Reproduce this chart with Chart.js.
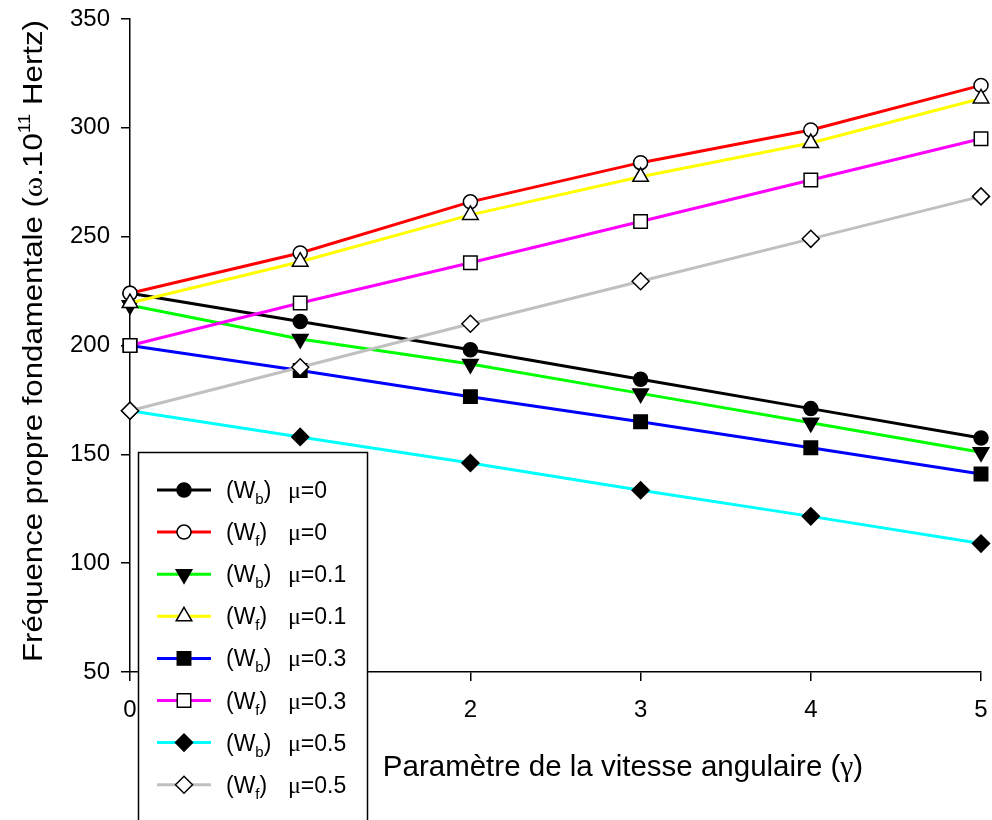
<!DOCTYPE html>
<html>
<head>
<meta charset="utf-8">
<script src="https://cdn.jsdelivr.net/npm/chart.js@4.4.1/dist/chart.umd.min.js"></script>
<style>
  html, body { margin: 0; padding: 0; background: #fff; }
  #wrap { width: 992px; height: 820px; }
</style>
</head>
<body>
<div id="wrap"><canvas id="freqChart" width="992" height="820"></canvas></div>
<script>
// angular velocity parameter (gamma)
const gammaValues = [0, 1, 2, 3, 4, 5];

// fundamental frequency, backward (Wb) and forward (Wf) whirl
const wbMu0  = [224, 211, 198, 184.5, 171, 157.5];
const wfMu0  = [224, 242.5, 266, 284, 299, 319.5];
const wbMu01 = [218.5, 203, 191.5, 178, 164.5, 151];
const wfMu01 = [219.5, 238.5, 260, 277.5, 293, 313.5];
const wbMu03 = [200, 188.5, 176.5, 165, 153, 141];
const wfMu03 = [200, 219.5, 238, 257, 276, 295];
const wbMu05 = [170, 158, 146, 133.5, 121.5, 109];
const wfMu05 = [170, 190, 210, 229.5, 249, 268.5];

// legend text parts
const modeNames = ['b', 'f', 'b', 'f', 'b', 'f', 'b', 'f'];
const muLabels  = ['0', '0', '0.1', '0.1', '0.3', '0.3', '0.5', '0.5'];

const FONT = '"Liberation Sans", Arial, sans-serif';
const GREEK = '"Liberation Serif", "Times New Roman", serif';

function series(values, color, style, filled, radius, rotation) {
  return {
    data: values.map((v, i) => ({ x: gammaValues[i], y: v })),
    borderColor: color,
    borderWidth: 3,
    pointStyle: style,
    pointRadius: radius,
    pointRotation: rotation || 0,
    pointBackgroundColor: filled ? '#000' : '#fff',
    pointBorderColor: '#000',
    pointBorderWidth: 1.5,
    tension: 0,
    clip: false
  };
}

const datasets = [
  series(wbMu0,  '#000000', 'circle',   true,  7),
  series(wfMu0,  '#ff0000', 'circle',   false, 7),
  series(wbMu01, '#00ff00', 'triangle', true,  9, 180),
  series(wfMu01, '#ffff00', 'triangle', false, 9),
  series(wbMu03, '#0000ff', 'rect',     true,  9.5),
  series(wfMu03, '#ff00ff', 'rect',     false, 9.5),
  series(wbMu05, '#00ffff', 'rectRot',  true,  8.5),
  series(wfMu05, '#c0c0c0', 'rectRot',  false, 8.5)
];
// later series are drawn on top
datasets.forEach((d, i) => { d.order = datasets.length - i; });

// draws a run of text pieces (font / vertical shift) starting at x
function drawPieces(ctx, pieces, x, y) {
  pieces.forEach(p => {
    ctx.font = p.font;
    ctx.fillText(p.text, x, y + (p.dy || 0));
    x += ctx.measureText(p.text).width;
  });
}
function piecesWidth(ctx, pieces) {
  let w = 0;
  pieces.forEach(p => { ctx.font = p.font; w += ctx.measureText(p.text).width; });
  return w;
}

// axis titles with greek letters and superscript
const axisTitles = {
  id: 'axisTitles',
  afterDraw(chart) {
    const ctx = chart.ctx;
    ctx.save();
    ctx.fillStyle = '#000';
    ctx.textBaseline = 'alphabetic';
    ctx.textAlign = 'left';

    const xt = [
      { text: 'Paramètre de la vitesse angulaire (', font: '29.5px ' + FONT },
      { text: 'γ', font: '29.5px ' + GREEK },
      { text: ')', font: '29.5px ' + FONT }
    ];
    const xw = piecesWidth(ctx, xt);
    drawPieces(ctx, xt, 623 - xw / 2, 776);

    const yt = [
      { text: 'Fréquence propre fondamentale (', font: '28px ' + FONT },
      { text: 'ω', font: '28px ' + GREEK },
      { text: '.10', font: '28px ' + FONT },
      { text: '11', font: '17px ' + FONT, dy: -12 },
      { text: ' Hertz)', font: '28px ' + FONT }
    ];
    const yw = piecesWidth(ctx, yt);
    const stretch = 642 / yw;
    ctx.translate(42, 341);
    ctx.rotate(-Math.PI / 2);
    ctx.scale(stretch, 1);
    drawPieces(ctx, yt, -yw / 2, 0);
    ctx.restore();
  }
};

// boxed legend drawn over the plot
const boxLegend = {
  id: 'boxLegend',
  afterDraw(chart) {
    const ctx = chart.ctx;
    const sets = chart.data.datasets;
    ctx.save();
    ctx.fillStyle = '#fff';
    ctx.strokeStyle = '#000';
    ctx.lineWidth = 1.5;
    ctx.fillRect(138.5, 452.5, 229, 380);
    ctx.strokeRect(138.5, 452.5, 229, 380);

    sets.forEach((ds, i) => {
      const y = 490 + i * 42.1;
      ctx.strokeStyle = ds.borderColor;
      ctx.lineWidth = 3;
      ctx.beginPath();
      ctx.moveTo(157, y);
      ctx.lineTo(211, y);
      ctx.stroke();

      ctx.fillStyle = ds.pointBackgroundColor;
      ctx.strokeStyle = ds.pointBorderColor;
      ctx.lineWidth = ds.pointBorderWidth;
      Chart.helpers.drawPoint(ctx, {
        pointStyle: ds.pointStyle,
        radius: ds.pointRadius,
        rotation: ds.pointRotation,
        borderWidth: ds.pointBorderWidth
      }, 184, y);

      ctx.fillStyle = '#000';
      ctx.textAlign = 'left';
      ctx.textBaseline = 'alphabetic';
      const base = y + 8;
      drawPieces(ctx, [
        { text: '(W', font: '23px ' + FONT },
        { text: modeNames[i], font: '15px ' + FONT, dy: 6 },
        { text: ')', font: '23px ' + FONT }
      ], 226, base);
      drawPieces(ctx, [
        { text: 'μ', font: '24px ' + GREEK },
        { text: '=' + muLabels[i], font: '23px ' + FONT }
      ], 288, base);
    });
    ctx.restore();
  }
};

new Chart(document.getElementById('freqChart'), {
  type: 'line',
  data: { datasets: datasets },
  options: {
    responsive: false,
    animation: false,
    layout: { padding: { top: 19, right: 7, left: 0, bottom: 0 } },
    plugins: {
      legend: { display: false },
      tooltip: { enabled: false }
    },
    scales: {
      x: {
        type: 'linear',
        min: 0,
        max: 5,
        ticks: { stepSize: 1, color: '#000', font: { family: FONT, size: 24 }, padding: 15 },
        grid: { drawOnChartArea: false, drawTicks: true, tickLength: 9, color: '#000', lineWidth: 1.5 },
        border: { color: '#000', width: 1.5 },
        afterFit: s => { s.height = 148; s.paddingLeft = 0; s.paddingRight = 0; }
      },
      y: {
        min: 50,
        max: 350,
        ticks: { stepSize: 50, color: '#000', font: { family: FONT, size: 24 }, padding: 11 },
        grid: { drawOnChartArea: false, drawTicks: true, tickLength: 9, color: '#000', lineWidth: 1.5 },
        border: { color: '#000', width: 1.5 },
        afterFit: s => { s.width = 130; s.paddingTop = 0; s.paddingBottom = 0; }
      }
    }
  },
  plugins: [axisTitles, boxLegend]
});
</script>
</body>
</html>
